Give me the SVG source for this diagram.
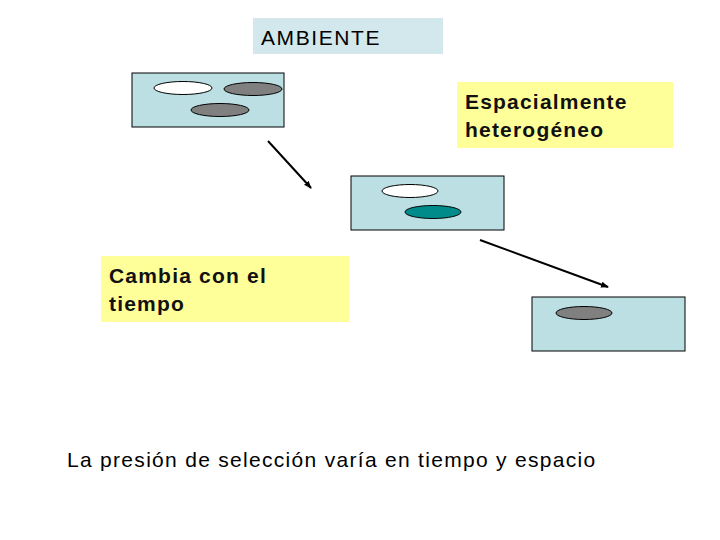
<svg xmlns="http://www.w3.org/2000/svg" width="720" height="540" viewBox="0 0 720 540">
<style>
.t{font-family:"Liberation Sans",Arial,sans-serif;fill:#000;font-size:21px}
.b{font-weight:bold;letter-spacing:1.2px;fill:#111}
.box{fill:#bcdfe3;stroke:#000;stroke-width:1}
.lab{fill:#ffff99}
.e{stroke:#000;stroke-width:1}
</style>
<defs><marker id="a" markerWidth="8" markerHeight="8" refX="7" refY="4" orient="auto" markerUnits="userSpaceOnUse"><path d="M0,1 L8,4 L0,7 z" fill="#000"/></marker></defs>
<rect width="720" height="540" fill="#fff"/>
<g id="ambiente"><rect x="253" y="18" width="190" height="36" fill="#d3e8ec"/><text class="t" x="261" y="45" letter-spacing="1.6">AMBIENTE</text></g>
<g id="env1"><rect class="box" x="132" y="73" width="152" height="54"/>
<ellipse class="e" cx="183" cy="88" rx="29" ry="6.5" fill="#fff"/>
<ellipse class="e" cx="253" cy="89" rx="29" ry="6.5" fill="#808080"/>
<ellipse class="e" cx="220" cy="110" rx="29" ry="6.5" fill="#808080"/></g>
<g id="espacial"><rect class="lab" x="457" y="82" width="216" height="66"/><text class="t b"><tspan x="465" y="109">Espacialmente</tspan><tspan x="465" y="137">heterogéneo</tspan></text></g>
<g id="env2"><rect class="box" x="351" y="176" width="153" height="54"/>
<ellipse class="e" cx="410" cy="191" rx="28" ry="6.5" fill="#fff"/>
<ellipse class="e" cx="433" cy="212" rx="28" ry="6.5" fill="#008b8b"/></g>
<g id="cambia"><rect class="lab" x="101" y="256" width="248" height="66"/><text class="t b"><tspan x="109" y="283">Cambia con el</tspan><tspan x="109" y="311">tiempo</tspan></text></g>
<g id="env3"><rect class="box" x="532" y="297" width="153" height="54"/>
<ellipse class="e" cx="584" cy="313" rx="28" ry="6.5" fill="#808080"/></g>
<g id="connectors" stroke="#000" stroke-width="2" fill="none">
<line x1="268" y1="141" x2="311" y2="188" marker-end="url(#a)"/>
<line x1="480" y1="240" x2="608" y2="287" marker-end="url(#a)"/>
</g>
<text class="t" x="67" y="467" letter-spacing="1.3">La presión de selección varía en tiempo y espacio</text>
</svg>
